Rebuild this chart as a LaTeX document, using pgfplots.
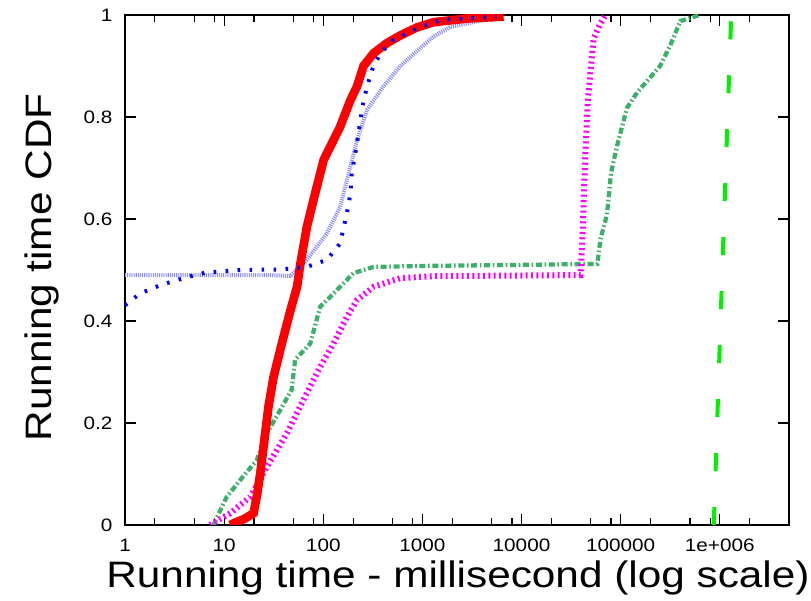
\documentclass[border=0pt]{standalone}
\usepackage{fontspec}
\setmainfont{Liberation Sans}[FakeStretch=1.15]
\usepackage{pgfplots}
\pgfplotsset{compat=1.18}

\definecolor{cdfred}{HTML}{FF0000}
\definecolor{cdfblue}{HTML}{0000FF}
\definecolor{cdflav}{HTML}{8C8CFF}
\definecolor{cdfmag}{HTML}{FF00FF}
\definecolor{cdfsea}{HTML}{3CB06A}
\definecolor{cdfgreen}{HTML}{00F000}

\begin{document}
\begin{tikzpicture}
\begin{axis}[
  scale only axis, width=498pt, height=382.5pt,
  xmode=log, xmin=1, xmax=5e6, ymin=0, ymax=1,
  axis line style={line width=1.1pt},
  xtick={1,10,100,1000,10000,100000,1000000},
  xticklabels={1,10,100,1000,10000,100000,1e+006},
  minor xtick={2,5,8,20,50,80,200,500,800,2000,5000,8000,20000,50000,80000,200000,500000,800000,2000000},
  ytick={0,0.2,0.4,0.6,0.8,1},
  yticklabels={0,0.2,0.4,0.6,0.8,1},
  tick align=inside, major tick length=8pt, minor tick length=5pt,
  tick style={black, line width=0.9pt},
  tick label style={font=\fontsize{13.5}{15}\selectfont},
  xticklabel style={yshift=-7pt},
  yticklabel style={xshift=-6pt},
  xlabel={Running time - millisecond (log scale)},
  ylabel={Running time CDF},
  label style={font=\fontsize{27.6}{32}\selectfont},
  xlabel style={at={(axis description cs:0.5015,-0.1235)}, anchor=base},
  ylabel style={at={(axis description cs:-0.11,0.505)}, anchor=base, rotate=0},
]
\coordinate (bl) at (rel axis cs:-0.1883,-0.1471);
\coordinate (tr) at (rel axis cs:1.0331,1.0294);

% green dashed
\addplot[cdfgreen, line width=3pt, dash pattern=on 13.5pt off 27pt] coordinates {
(870000,0) (1060000,0.5) (1300000,0.99)};

% sea green dash-dot
\addplot[cdfsea, line width=3.2pt, dash pattern=on 4.5pt off 2pt on 1.2pt off 2pt] coordinates {
(7.8,0) (10.6,0.055) (14.5,0.088) (21.3,0.127) (27,0.18) (36.7,0.225) (48,0.265) (52,0.324)
(74,0.356) (93,0.428) (109,0.441) (148,0.467) (202,0.494) (322,0.506) (1000,0.508)
(10000,0.51) (58200,0.512) (63000,0.563) (72800,0.608) (80000,0.69) (92000,0.743)
(116000,0.818) (148000,0.849) (186000,0.871) (250000,0.90) (316000,0.94) (400000,0.988)
(630000,1.0)};

% magenta dotted
\addplot[cdfmag, line width=4.5pt, dash pattern=on 1.5pt off 2.5pt] coordinates {
(7.2,0) (11.5,0.023) (18.3,0.055) (27,0.114) (43,0.18) (68,0.258) (93,0.31) (127,0.356)
(173,0.408) (219,0.441) (322,0.467) (600,0.484) (1300,0.488) (39400,0.49) (41500,0.58)
(43500,0.70) (46500,0.83) (53400,0.954) (62800,0.984) (70500,1.0)};

% lavender fine dotted
\addplot[cdflav, line width=3pt, dash pattern=on 0.8pt off 0.8pt] coordinates {
(1,0.49) (10,0.49) (30,0.49) (46.5,0.488) (68.4,0.52) (109,0.572) (148,0.624) (188,0.703)
(219,0.755) (277,0.814) (405,0.86) (600,0.90) (890,0.93) (1300,0.958) (1930,0.977)
(4200,0.99) (6100,0.993)};

% red solid
\addplot[cdfred, line width=6.5pt] coordinates {
(11.5,0) (13,0.005) (16,0.012) (19.8,0.023) (21.3,0.055) (23.1,0.10) (25,0.154) (28,0.232)
(31.5,0.29) (38.2,0.356) (46.5,0.42) (54.4,0.467) (58.5,0.51) (68.4,0.585) (79.6,0.637)
(101,0.716) (127,0.755) (148,0.781) (188,0.833) (219,0.86) (255,0.90) (322,0.925)
(440,0.945) (600,0.96) (890,0.976) (1300,0.986) (2800,0.993) (6600,0.997)};

% blue dotted
\addplot[cdfblue, line width=3pt, dash pattern=on 2pt off 7pt] coordinates {
(1,0.431) (1.42,0.454) (2.26,0.47) (3.88,0.484) (6.5,0.495) (14.5,0.50) (36.7,0.501)
(68,0.506) (109,0.52) (148,0.552) (173,0.611) (188,0.65) (194,0.69) (219,0.748)
(237,0.794) (256,0.833) (277,0.86) (310,0.892) (376,0.925) (510,0.951) (955,0.977)
(1520,0.99) (2800,0.993) (5600,0.997)};
\end{axis}
\pgfresetboundingbox
\path (bl) rectangle (tr);
\end{tikzpicture}
\end{document}
